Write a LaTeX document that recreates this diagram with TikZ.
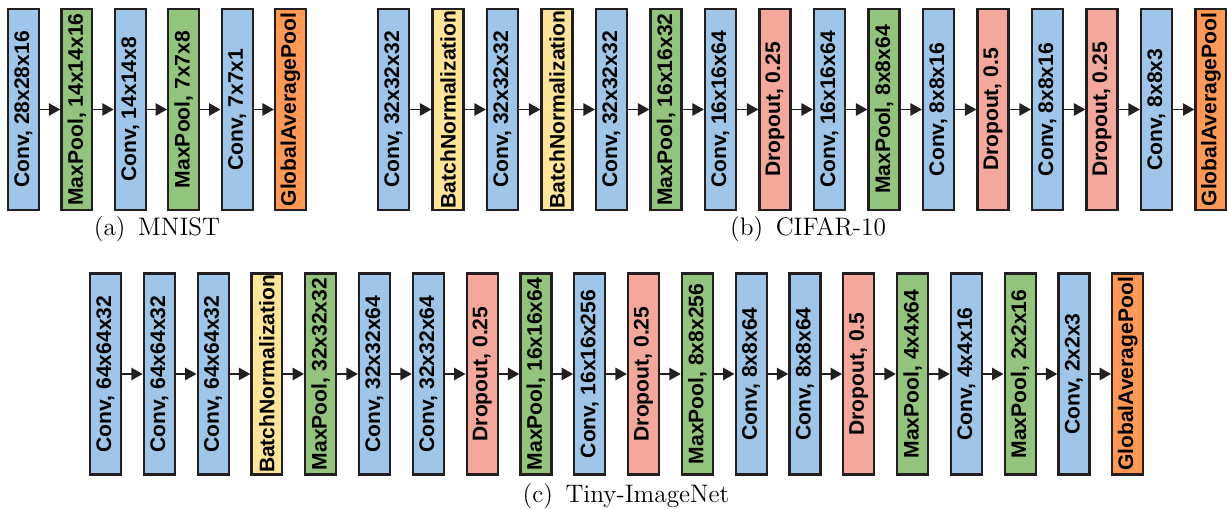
\documentclass[tikz,border=0pt]{standalone}
\usepackage{fontspec}
\setsansfont{Liberation Sans}
\usetikzlibrary{arrows.meta}

\definecolor{convblue}{HTML}{9FC5E8}
\definecolor{poolgreen}{HTML}{93C47D}
\definecolor{bnyellow}{HTML}{FFE599}
\definecolor{dropred}{HTML}{F4A89C}
\definecolor{gaporange}{HTML}{FF9955}
\definecolor{edgegray}{HTML}{231F20}

\begin{document}
\begin{tikzpicture}[x=0.02cm,y=-0.02cm,
    layer/.style={draw=edgegray,line width=1.25pt,minimum width=0.62cm,minimum height=4.02cm,
        inner sep=0pt,font=\sffamily\bfseries\fontsize{12}{14}\selectfont},
    convbox/.style={layer,fill=convblue},
    poolbox/.style={layer,fill=poolgreen},
    bnbox/.style={layer,fill=bnyellow},
    dropbox/.style={layer,fill=dropred},
    gapbox/.style={layer,fill=gaporange},
    flow/.style={draw=edgegray,line width=0.95pt,-{Triangle[length=6.5pt,width=7pt]}},
    caption/.style={font=\Large}]

    \useasboundingbox (0,0) rectangle (1227,509);

    % (a) MNIST
    \foreach \lbl/\sty [count=\i] in {{Conv, 28x28x16}/convbox,{MaxPool, 14x14x16}/poolbox,
        {Conv, 14x14x8}/convbox,{MaxPool, 7x7x8}/poolbox,{Conv, 7x7x1}/convbox,
        GlobalAveragePool/gapbox}
        \node[\sty] (m\i) at ({23.5+53.4*(\i-1)},109.5) {\rotatebox{90}{\lbl}};
    \foreach \i [count=\j from 2] in {1,...,5}
        \draw[flow] (m\i.east) -- (m\j.west);
    \node[caption] (capa) at (157,229) {(a)\enspace MNIST};

    % (b) CIFAR-10
    \foreach \lbl/\sty [count=\i] in {{Conv, 32x32x32}/convbox,BatchNormalization/bnbox,
        {Conv, 32x32x32}/convbox,BatchNormalization/bnbox,{Conv, 32x32x32}/convbox,
        {MaxPool, 16x16x32}/poolbox,{Conv, 16x16x64}/convbox,{Dropout, 0.25}/dropbox,
        {Conv, 16x16x64}/convbox,{MaxPool, 8x8x64}/poolbox,{Conv, 8x8x16}/convbox,
        {Dropout, 0.5}/dropbox,{Conv, 8x8x16}/convbox,{Dropout, 0.25}/dropbox,
        {Conv, 8x8x3}/convbox,GlobalAveragePool/gapbox}
        \node[\sty] (c\i) at ({393.5+54.5*(\i-1)},109.5) {\rotatebox{90}{\lbl}};
    \foreach \i [count=\j from 2] in {1,...,15}
        \draw[flow] (c\i.east) -- (c\j.west);
    \node[caption] (capb) at (808,229) {(b)\enspace CIFAR-10};

    % (c) Tiny-ImageNet
    \foreach \lbl/\sty [count=\i] in {{Conv, 64x64x32}/convbox,{Conv, 64x64x32}/convbox,
        {Conv, 64x64x32}/convbox,BatchNormalization/bnbox,{MaxPool, 32x32x32}/poolbox,
        {Conv, 32x32x64}/convbox,{Conv, 32x32x64}/convbox,{Dropout, 0.25}/dropbox,
        {MaxPool, 16x16x64}/poolbox,{Conv, 16x16x256}/convbox,{Dropout, 0.25}/dropbox,
        {MaxPool, 8x8x256}/poolbox,{Conv, 8x8x64}/convbox,{Conv, 8x8x64}/convbox,
        {Dropout, 0.5}/dropbox,{MaxPool, 4x4x64}/poolbox,{Conv, 4x4x16}/convbox,
        {MaxPool, 2x2x16}/poolbox,{Conv, 2x2x3}/convbox,GlobalAveragePool/gapbox}
        \node[\sty] (t\i) at ({105.5+53.8*(\i-1)},374) {\rotatebox{90}{\lbl}};
    \foreach \i [count=\j from 2] in {1,...,19}
        \draw[flow] (t\i.east) -- (t\j.west);
    \node[caption] (capc) at (626,496) {(c)\enspace Tiny-ImageNet};

\end{tikzpicture}
\end{document}
